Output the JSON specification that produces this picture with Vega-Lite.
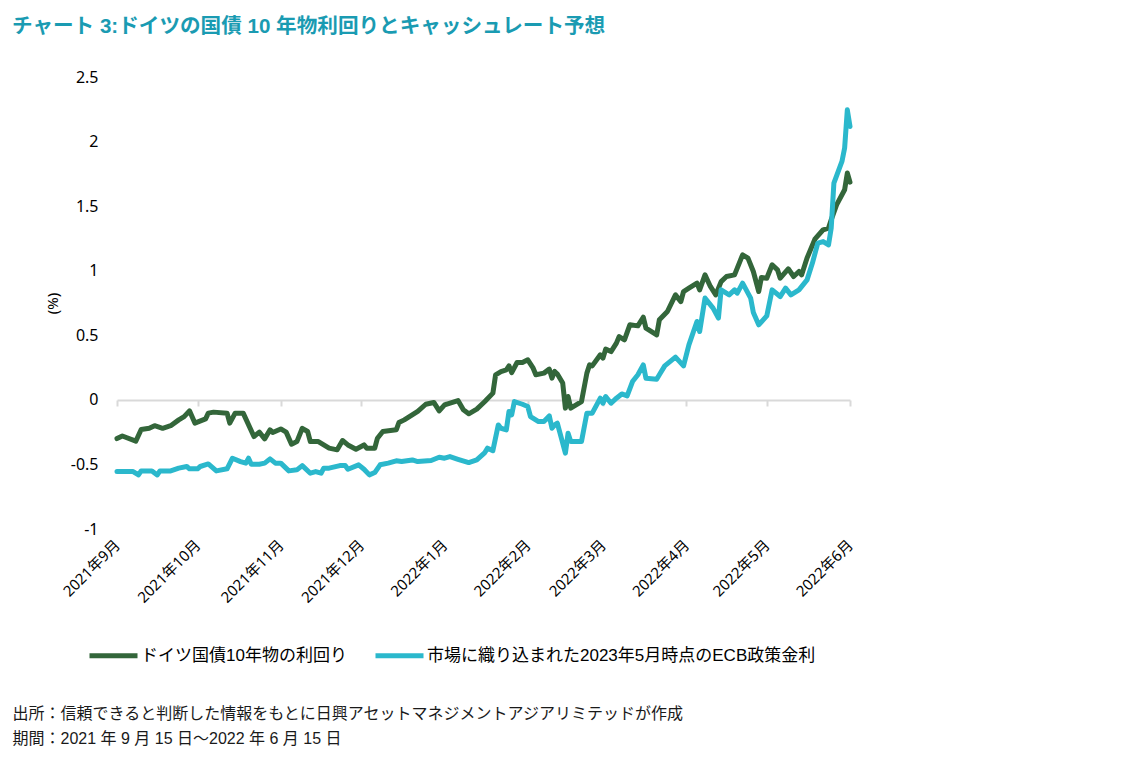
{
  "$schema": "https://vega.github.io/schema/vega-lite/v6.json",
  "width": 733,
  "height": 452,
  "autosize": {"type": "none"},
  "padding": {"left": 117, "top": 77, "right": 281, "bottom": 244},
  "background": "white",
  "title": {
    "text": "チャート 3:ドイツの国債 10 年物利回りとキャッシュレート予想",
    "anchor": "start",
    "frame": "group",
    "dx": -105,
    "offset": 31,
    "font": "Liberation Sans, Noto Sans CJK JP",
    "fontSize": 20.6,
    "fontWeight": "bold",
    "color": "#1a9bb2"
  },
  "config": {"view": {"stroke": null}},
  "data": {
    "values": [
      {"date": "2021-09-15", "series": "DE", "value": -0.30},
      {"date": "2021-09-17", "series": "DE", "value": -0.28},
      {"date": "2021-09-22", "series": "DE", "value": -0.32},
      {"date": "2021-09-24", "series": "DE", "value": -0.23},
      {"date": "2021-09-27", "series": "DE", "value": -0.22},
      {"date": "2021-09-29", "series": "DE", "value": -0.20},
      {"date": "2021-10-02", "series": "DE", "value": -0.22},
      {"date": "2021-10-05", "series": "DE", "value": -0.20},
      {"date": "2021-10-08", "series": "DE", "value": -0.155},
      {"date": "2021-10-10", "series": "DE", "value": -0.13},
      {"date": "2021-10-12", "series": "DE", "value": -0.085},
      {"date": "2021-10-14", "series": "DE", "value": -0.18},
      {"date": "2021-10-18", "series": "DE", "value": -0.147},
      {"date": "2021-10-19", "series": "DE", "value": -0.103},
      {"date": "2021-10-21", "series": "DE", "value": -0.095},
      {"date": "2021-10-26", "series": "DE", "value": -0.103},
      {"date": "2021-10-27", "series": "DE", "value": -0.18},
      {"date": "2021-10-29", "series": "DE", "value": -0.103},
      {"date": "2021-11-01", "series": "DE", "value": -0.103},
      {"date": "2021-11-05", "series": "DE", "value": -0.284},
      {"date": "2021-11-07", "series": "DE", "value": -0.25},
      {"date": "2021-11-09", "series": "DE", "value": -0.302},
      {"date": "2021-11-11", "series": "DE", "value": -0.232},
      {"date": "2021-11-12", "series": "DE", "value": -0.253},
      {"date": "2021-11-15", "series": "DE", "value": -0.225},
      {"date": "2021-11-17", "series": "DE", "value": -0.25},
      {"date": "2021-11-19", "series": "DE", "value": -0.343},
      {"date": "2021-11-21", "series": "DE", "value": -0.323},
      {"date": "2021-11-23", "series": "DE", "value": -0.22},
      {"date": "2021-11-25", "series": "DE", "value": -0.245},
      {"date": "2021-11-26", "series": "DE", "value": -0.323},
      {"date": "2021-11-29", "series": "DE", "value": -0.323},
      {"date": "2021-12-03", "series": "DE", "value": -0.374},
      {"date": "2021-12-06", "series": "DE", "value": -0.387},
      {"date": "2021-12-08", "series": "DE", "value": -0.315},
      {"date": "2021-12-10", "series": "DE", "value": -0.349},
      {"date": "2021-12-13", "series": "DE", "value": -0.382},
      {"date": "2021-12-16", "series": "DE", "value": -0.349},
      {"date": "2021-12-17", "series": "DE", "value": -0.374},
      {"date": "2021-12-20", "series": "DE", "value": -0.374},
      {"date": "2021-12-21", "series": "DE", "value": -0.297},
      {"date": "2021-12-23", "series": "DE", "value": -0.245},
      {"date": "2021-12-28", "series": "DE", "value": -0.232},
      {"date": "2021-12-29", "series": "DE", "value": -0.176},
      {"date": "2021-12-31", "series": "DE", "value": -0.155},
      {"date": "2022-01-05", "series": "DE", "value": -0.09},
      {"date": "2022-01-08", "series": "DE", "value": -0.034},
      {"date": "2022-01-11", "series": "DE", "value": -0.02},
      {"date": "2022-01-13", "series": "DE", "value": -0.085},
      {"date": "2022-01-15", "series": "DE", "value": -0.039},
      {"date": "2022-01-20", "series": "DE", "value": -0.005},
      {"date": "2022-01-22", "series": "DE", "value": -0.077},
      {"date": "2022-01-24", "series": "DE", "value": -0.108},
      {"date": "2022-01-27", "series": "DE", "value": -0.072},
      {"date": "2022-01-30", "series": "DE", "value": -0.013},
      {"date": "2022-02-02", "series": "DE", "value": 0.052},
      {"date": "2022-02-03", "series": "DE", "value": 0.194},
      {"date": "2022-02-05", "series": "DE", "value": 0.219},
      {"date": "2022-02-07", "series": "DE", "value": 0.232},
      {"date": "2022-02-08", "series": "DE", "value": 0.263},
      {"date": "2022-02-09", "series": "DE", "value": 0.211},
      {"date": "2022-02-11", "series": "DE", "value": 0.289},
      {"date": "2022-02-13", "series": "DE", "value": 0.289},
      {"date": "2022-02-15", "series": "DE", "value": 0.31},
      {"date": "2022-02-17", "series": "DE", "value": 0.245},
      {"date": "2022-02-18", "series": "DE", "value": 0.194},
      {"date": "2022-02-21", "series": "DE", "value": 0.207},
      {"date": "2022-02-23", "series": "DE", "value": 0.238},
      {"date": "2022-02-24", "series": "DE", "value": 0.168},
      {"date": "2022-02-25", "series": "DE", "value": 0.22},
      {"date": "2022-02-26", "series": "DE", "value": 0.20},
      {"date": "2022-02-28", "series": "DE", "value": 0.13},
      {"date": "2022-03-01", "series": "DE", "value": -0.064},
      {"date": "2022-03-02", "series": "DE", "value": 0.026},
      {"date": "2022-03-03", "series": "DE", "value": -0.064},
      {"date": "2022-03-05", "series": "DE", "value": -0.039},
      {"date": "2022-03-07", "series": "DE", "value": -0.013},
      {"date": "2022-03-09", "series": "DE", "value": 0.207},
      {"date": "2022-03-10", "series": "DE", "value": 0.271},
      {"date": "2022-03-11", "series": "DE", "value": 0.263},
      {"date": "2022-03-14", "series": "DE", "value": 0.349},
      {"date": "2022-03-15", "series": "DE", "value": 0.323},
      {"date": "2022-03-16", "series": "DE", "value": 0.393},
      {"date": "2022-03-18", "series": "DE", "value": 0.374},
      {"date": "2022-03-20", "series": "DE", "value": 0.439},
      {"date": "2022-03-21", "series": "DE", "value": 0.49},
      {"date": "2022-03-23", "series": "DE", "value": 0.465},
      {"date": "2022-03-25", "series": "DE", "value": 0.581},
      {"date": "2022-03-28", "series": "DE", "value": 0.573},
      {"date": "2022-03-30", "series": "DE", "value": 0.64},
      {"date": "2022-03-31", "series": "DE", "value": 0.555},
      {"date": "2022-04-04", "series": "DE", "value": 0.503},
      {"date": "2022-04-05", "series": "DE", "value": 0.62},
      {"date": "2022-04-08", "series": "DE", "value": 0.684},
      {"date": "2022-04-11", "series": "DE", "value": 0.813},
      {"date": "2022-04-13", "series": "DE", "value": 0.761},
      {"date": "2022-04-14", "series": "DE", "value": 0.839},
      {"date": "2022-04-16", "series": "DE", "value": 0.865},
      {"date": "2022-04-19", "series": "DE", "value": 0.904},
      {"date": "2022-04-20", "series": "DE", "value": 0.852},
      {"date": "2022-04-22", "series": "DE", "value": 0.968},
      {"date": "2022-04-24", "series": "DE", "value": 0.878},
      {"date": "2022-04-26", "series": "DE", "value": 0.813},
      {"date": "2022-04-28", "series": "DE", "value": 0.916},
      {"date": "2022-04-30", "series": "DE", "value": 0.955},
      {"date": "2022-05-03", "series": "DE", "value": 0.968},
      {"date": "2022-05-06", "series": "DE", "value": 1.123},
      {"date": "2022-05-08", "series": "DE", "value": 1.098},
      {"date": "2022-05-10", "series": "DE", "value": 0.994},
      {"date": "2022-05-12", "series": "DE", "value": 0.839},
      {"date": "2022-05-13", "series": "DE", "value": 0.947},
      {"date": "2022-05-15", "series": "DE", "value": 0.942},
      {"date": "2022-05-17", "series": "DE", "value": 1.046},
      {"date": "2022-05-19", "series": "DE", "value": 1.007},
      {"date": "2022-05-20", "series": "DE", "value": 0.942},
      {"date": "2022-05-23", "series": "DE", "value": 1.015},
      {"date": "2022-05-25", "series": "DE", "value": 0.955},
      {"date": "2022-05-27", "series": "DE", "value": 0.994},
      {"date": "2022-05-28", "series": "DE", "value": 0.968},
      {"date": "2022-05-30", "series": "DE", "value": 1.098},
      {"date": "2022-06-02", "series": "DE", "value": 1.247},
      {"date": "2022-06-05", "series": "DE", "value": 1.317},
      {"date": "2022-06-07", "series": "DE", "value": 1.33},
      {"date": "2022-06-08", "series": "DE", "value": 1.394},
      {"date": "2022-06-10", "series": "DE", "value": 1.51},
      {"date": "2022-06-13", "series": "DE", "value": 1.627},
      {"date": "2022-06-14", "series": "DE", "value": 1.756},
      {"date": "2022-06-15", "series": "DE", "value": 1.686},
      {"date": "2021-09-15", "series": "ECB", "value": -0.555},
      {"date": "2021-09-21", "series": "ECB", "value": -0.555},
      {"date": "2021-09-23", "series": "ECB", "value": -0.581},
      {"date": "2021-09-24", "series": "ECB", "value": -0.55},
      {"date": "2021-09-28", "series": "ECB", "value": -0.55},
      {"date": "2021-09-30", "series": "ECB", "value": -0.581},
      {"date": "2021-10-01", "series": "ECB", "value": -0.55},
      {"date": "2021-10-05", "series": "ECB", "value": -0.55},
      {"date": "2021-10-08", "series": "ECB", "value": -0.529},
      {"date": "2021-10-11", "series": "ECB", "value": -0.516},
      {"date": "2021-10-12", "series": "ECB", "value": -0.534},
      {"date": "2021-10-15", "series": "ECB", "value": -0.534},
      {"date": "2021-10-16", "series": "ECB", "value": -0.516},
      {"date": "2021-10-19", "series": "ECB", "value": -0.496},
      {"date": "2021-10-22", "series": "ECB", "value": -0.55},
      {"date": "2021-10-26", "series": "ECB", "value": -0.534},
      {"date": "2021-10-28", "series": "ECB", "value": -0.452},
      {"date": "2021-10-31", "series": "ECB", "value": -0.478},
      {"date": "2021-11-02", "series": "ECB", "value": -0.49},
      {"date": "2021-11-03", "series": "ECB", "value": -0.452},
      {"date": "2021-11-04", "series": "ECB", "value": -0.498},
      {"date": "2021-11-07", "series": "ECB", "value": -0.498},
      {"date": "2021-11-09", "series": "ECB", "value": -0.49},
      {"date": "2021-11-11", "series": "ECB", "value": -0.457},
      {"date": "2021-11-13", "series": "ECB", "value": -0.49},
      {"date": "2021-11-15", "series": "ECB", "value": -0.49},
      {"date": "2021-11-18", "series": "ECB", "value": -0.55},
      {"date": "2021-11-21", "series": "ECB", "value": -0.542},
      {"date": "2021-11-23", "series": "ECB", "value": -0.509},
      {"date": "2021-11-26", "series": "ECB", "value": -0.568},
      {"date": "2021-11-28", "series": "ECB", "value": -0.555},
      {"date": "2021-11-30", "series": "ECB", "value": -0.568},
      {"date": "2021-12-01", "series": "ECB", "value": -0.529},
      {"date": "2021-12-03", "series": "ECB", "value": -0.529},
      {"date": "2021-12-07", "series": "ECB", "value": -0.509},
      {"date": "2021-12-09", "series": "ECB", "value": -0.509},
      {"date": "2021-12-10", "series": "ECB", "value": -0.537},
      {"date": "2021-12-14", "series": "ECB", "value": -0.503},
      {"date": "2021-12-16", "series": "ECB", "value": -0.537},
      {"date": "2021-12-18", "series": "ECB", "value": -0.581},
      {"date": "2021-12-20", "series": "ECB", "value": -0.563},
      {"date": "2021-12-22", "series": "ECB", "value": -0.503},
      {"date": "2021-12-25", "series": "ECB", "value": -0.49},
      {"date": "2021-12-28", "series": "ECB", "value": -0.472},
      {"date": "2021-12-30", "series": "ECB", "value": -0.478},
      {"date": "2022-01-03", "series": "ECB", "value": -0.465},
      {"date": "2022-01-05", "series": "ECB", "value": -0.478},
      {"date": "2022-01-10", "series": "ECB", "value": -0.47},
      {"date": "2022-01-13", "series": "ECB", "value": -0.444},
      {"date": "2022-01-15", "series": "ECB", "value": -0.452},
      {"date": "2022-01-17", "series": "ECB", "value": -0.439},
      {"date": "2022-01-20", "series": "ECB", "value": -0.46},
      {"date": "2022-01-24", "series": "ECB", "value": -0.486},
      {"date": "2022-01-27", "series": "ECB", "value": -0.465},
      {"date": "2022-01-30", "series": "ECB", "value": -0.408},
      {"date": "2022-01-31", "series": "ECB", "value": -0.374},
      {"date": "2022-02-02", "series": "ECB", "value": -0.393},
      {"date": "2022-02-04", "series": "ECB", "value": -0.194},
      {"date": "2022-02-05", "series": "ECB", "value": -0.22},
      {"date": "2022-02-07", "series": "ECB", "value": -0.232},
      {"date": "2022-02-08", "series": "ECB", "value": -0.09},
      {"date": "2022-02-09", "series": "ECB", "value": -0.116},
      {"date": "2022-02-10", "series": "ECB", "value": -0.013},
      {"date": "2022-02-13", "series": "ECB", "value": -0.034},
      {"date": "2022-02-15", "series": "ECB", "value": -0.052},
      {"date": "2022-02-16", "series": "ECB", "value": -0.129},
      {"date": "2022-02-19", "series": "ECB", "value": -0.168},
      {"date": "2022-02-21", "series": "ECB", "value": -0.168},
      {"date": "2022-02-23", "series": "ECB", "value": -0.124},
      {"date": "2022-02-24", "series": "ECB", "value": -0.22},
      {"date": "2022-02-25", "series": "ECB", "value": -0.194},
      {"date": "2022-02-26", "series": "ECB", "value": -0.181},
      {"date": "2022-02-27", "series": "ECB", "value": -0.258},
      {"date": "2022-03-01", "series": "ECB", "value": -0.413},
      {"date": "2022-03-02", "series": "ECB", "value": -0.258},
      {"date": "2022-03-03", "series": "ECB", "value": -0.323},
      {"date": "2022-03-07", "series": "ECB", "value": -0.323},
      {"date": "2022-03-09", "series": "ECB", "value": -0.103},
      {"date": "2022-03-11", "series": "ECB", "value": -0.103},
      {"date": "2022-03-14", "series": "ECB", "value": 0.013},
      {"date": "2022-03-15", "series": "ECB", "value": -0.026},
      {"date": "2022-03-16", "series": "ECB", "value": 0.026},
      {"date": "2022-03-18", "series": "ECB", "value": -0.026},
      {"date": "2022-03-20", "series": "ECB", "value": 0.013},
      {"date": "2022-03-22", "series": "ECB", "value": 0.046},
      {"date": "2022-03-24", "series": "ECB", "value": 0.031},
      {"date": "2022-03-26", "series": "ECB", "value": 0.142},
      {"date": "2022-03-28", "series": "ECB", "value": 0.194},
      {"date": "2022-03-30", "series": "ECB", "value": 0.271},
      {"date": "2022-03-31", "series": "ECB", "value": 0.168},
      {"date": "2022-04-04", "series": "ECB", "value": 0.16},
      {"date": "2022-04-05", "series": "ECB", "value": 0.194},
      {"date": "2022-04-07", "series": "ECB", "value": 0.263},
      {"date": "2022-04-11", "series": "ECB", "value": 0.331},
      {"date": "2022-04-14", "series": "ECB", "value": 0.263},
      {"date": "2022-04-16", "series": "ECB", "value": 0.426},
      {"date": "2022-04-19", "series": "ECB", "value": 0.607},
      {"date": "2022-04-20", "series": "ECB", "value": 0.529},
      {"date": "2022-04-22", "series": "ECB", "value": 0.788},
      {"date": "2022-04-25", "series": "ECB", "value": 0.71},
      {"date": "2022-04-27", "series": "ECB", "value": 0.633},
      {"date": "2022-04-28", "series": "ECB", "value": 0.852},
      {"date": "2022-05-01", "series": "ECB", "value": 0.813},
      {"date": "2022-05-03", "series": "ECB", "value": 0.852},
      {"date": "2022-05-04", "series": "ECB", "value": 0.826},
      {"date": "2022-05-06", "series": "ECB", "value": 0.904},
      {"date": "2022-05-09", "series": "ECB", "value": 0.788},
      {"date": "2022-05-10", "series": "ECB", "value": 0.676},
      {"date": "2022-05-12", "series": "ECB", "value": 0.581},
      {"date": "2022-05-15", "series": "ECB", "value": 0.65},
      {"date": "2022-05-17", "series": "ECB", "value": 0.852},
      {"date": "2022-05-20", "series": "ECB", "value": 0.80},
      {"date": "2022-05-22", "series": "ECB", "value": 0.865},
      {"date": "2022-05-24", "series": "ECB", "value": 0.813},
      {"date": "2022-05-27", "series": "ECB", "value": 0.852},
      {"date": "2022-05-30", "series": "ECB", "value": 0.929},
      {"date": "2022-06-01", "series": "ECB", "value": 1.059},
      {"date": "2022-06-03", "series": "ECB", "value": 1.214},
      {"date": "2022-06-05", "series": "ECB", "value": 1.226},
      {"date": "2022-06-07", "series": "ECB", "value": 1.20},
      {"date": "2022-06-08", "series": "ECB", "value": 1.33},
      {"date": "2022-06-09", "series": "ECB", "value": 1.678},
      {"date": "2022-06-12", "series": "ECB", "value": 1.846},
      {"date": "2022-06-13", "series": "ECB", "value": 1.95},
      {"date": "2022-06-14", "series": "ECB", "value": 2.246},
      {"date": "2022-06-15", "series": "ECB", "value": 2.117}
    ]
  },
  "mark": {"type": "line", "strokeWidth": 5, "strokeJoin": "round", "strokeCap": "round"},
  "encoding": {
    "x": {
      "field": "date",
      "type": "temporal",
      "scale": {
        "type": "utc",
        "nice": false,
        "domain": [
          {"year": 2021, "month": 9, "date": 15, "utc": true},
          {"year": 2022, "month": 6, "date": 15, "utc": true}
        ]
      },
      "axis": {
        "values": [
          {"year": 2021, "month": 9, "date": 15, "utc": true},
          {"year": 2021, "month": 10, "date": 15, "utc": true},
          {"year": 2021, "month": 11, "date": 15, "utc": true},
          {"year": 2021, "month": 12, "date": 15, "utc": true},
          {"year": 2022, "month": 1, "date": 15, "utc": true},
          {"year": 2022, "month": 2, "date": 15, "utc": true},
          {"year": 2022, "month": 3, "date": 15, "utc": true},
          {"year": 2022, "month": 4, "date": 15, "utc": true},
          {"year": 2022, "month": 5, "date": 15, "utc": true},
          {"year": 2022, "month": 6, "date": 15, "utc": true}
        ],
        "labelExpr": "utcFormat(datum.value, '%Y年%-m月')",
        "offset": -129,
        "labelAngle": -45,
        "labelAlign": "right",
        "labelBaseline": "middle",
        "labelPadding": 136,
        "labelFlush": false,
        "labelOverlap": false,
        "labelFont": "Noto Sans, Noto Sans CJK JP",
        "labelFontSize": 15,
        "labelColor": "#000000",
        "domainColor": "#d9d9d9",
        "domainWidth": 2,
        "tickColor": "#d9d9d9",
        "tickWidth": 2,
        "tickSize": 6,
        "grid": false,
        "title": [
          "出所：信頼できると判断した情報をもとに日興アセットマネジメントアジアリミテッドが作成",
          "期間：2021 年 9 月 15 日～2022 年 6 月 15 日"
        ],
        "titleAnchor": "start",
        "titleAlign": "left",
        "titleBaseline": "alphabetic",
        "titleX": -105,
        "titleY": 318,
        "titleLineHeight": 25,
        "titleFont": "Liberation Sans, Noto Sans CJK JP",
        "titleFontSize": 16,
        "titleFontWeight": "normal",
        "titleColor": "#1a1a1a"
      }
    },
    "y": {
      "field": "value",
      "type": "quantitative",
      "scale": {"domain": [-1, 2.5], "nice": false, "zero": false},
      "axis": {
        "values": [-1, -0.5, 0, 0.5, 1, 1.5, 2, 2.5],
        "labelExpr": "datum.value + ''",
        "grid": false,
        "domain": false,
        "ticks": false,
        "labelPadding": 19,
        "labelFlush": false,
        "labelFont": "Noto Sans",
        "labelFontSize": 16,
        "labelColor": "#000000",
        "title": "(%)",
        "titleFont": "Noto Sans",
        "titleFontSize": 15,
        "titleFontWeight": "normal",
        "titleColor": "#000000",
        "titlePadding": 10
      }
    },
    "color": {
      "field": "series",
      "type": "nominal",
      "scale": {"domain": ["DE", "ECB"], "range": ["#33663a", "#2bb8cc"]},
      "legend": {
        "orient": "none",
        "legendX": -30,
        "legendY": 552,
        "direction": "horizontal",
        "title": null,
        "symbolType": "stroke",
        "symbolSize": 2304,
        "symbolStrokeWidth": 5,
        "labelExpr": "datum.label == 'DE' ? 'ドイツ国債10年物の利回り' : '市場に織り込まれた2023年5月時点のECB政策金利'",
        "labelFont": "Liberation Sans, Noto Sans CJK JP",
        "labelFontSize": 17,
        "labelColor": "#000000",
        "labelOffset": 1,
        "labelLimit": 600,
        "columnPadding": 18
      }
    }
  }
}
